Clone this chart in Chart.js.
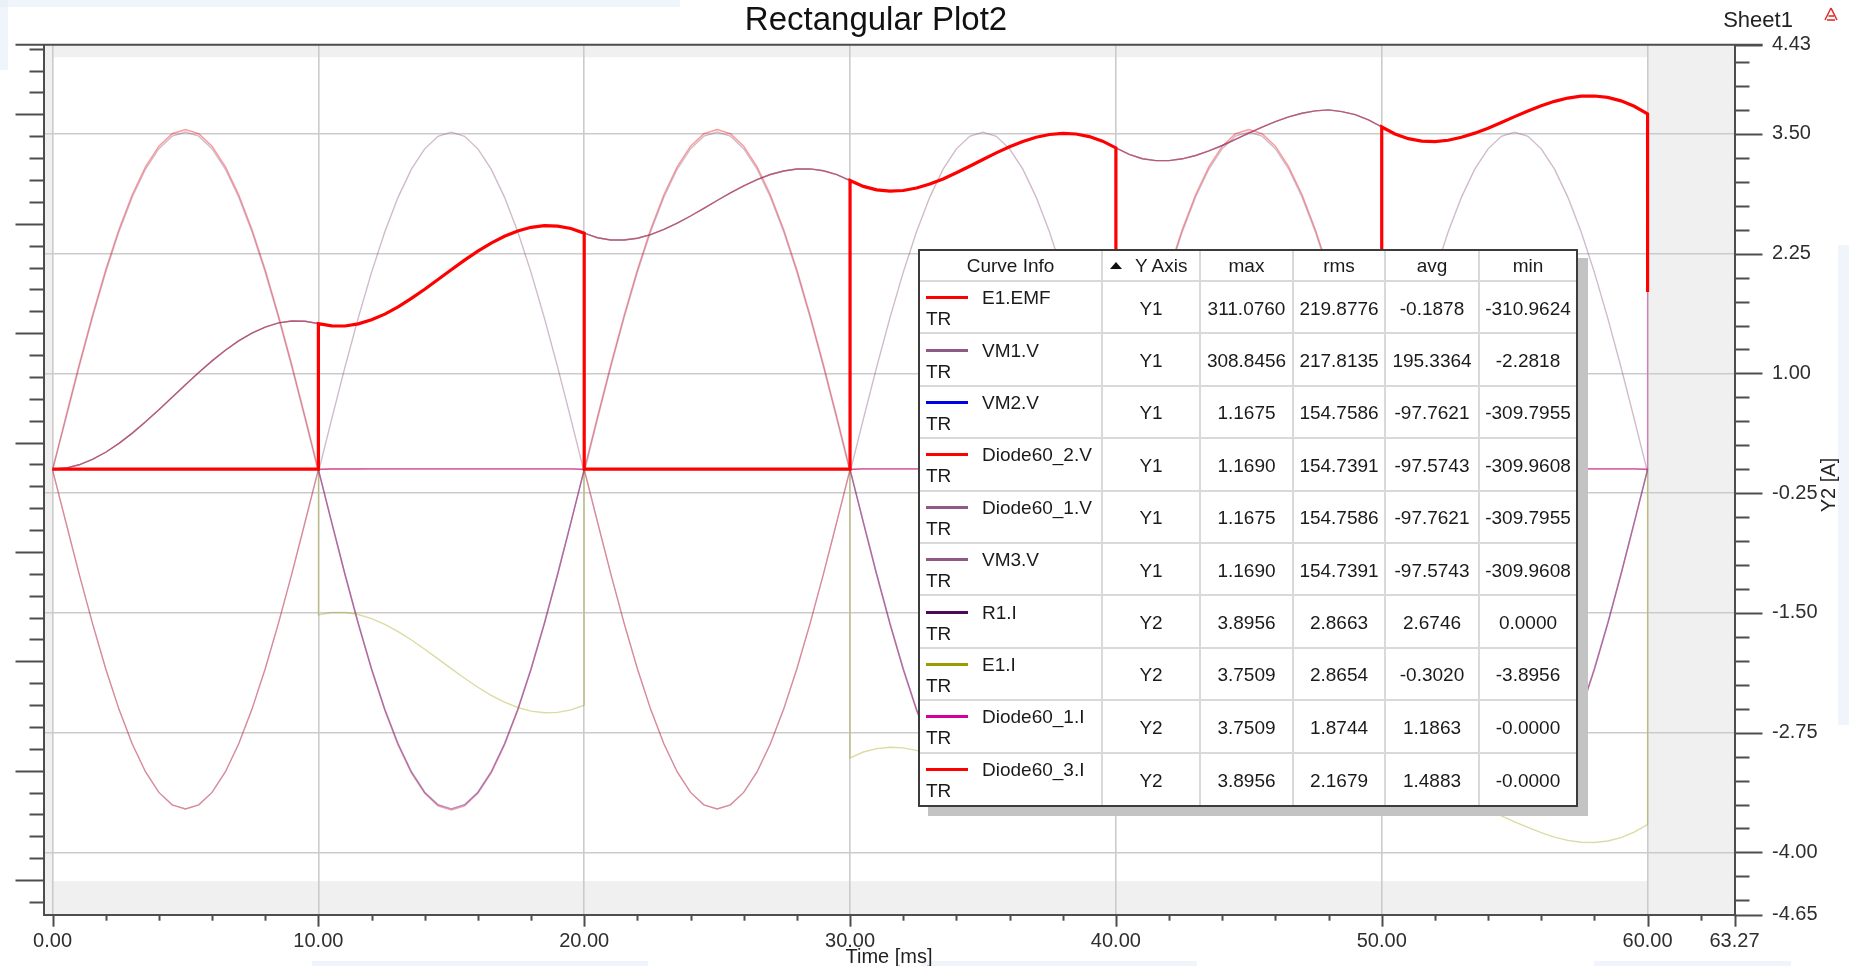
<!DOCTYPE html>
<html>
<head>
<meta charset="utf-8">
<title>Rectangular Plot2</title>
<script src="https://cdn.jsdelivr.net/npm/chart.js@4.4.1/dist/chart.umd.min.js"></script>
<style>
  html, body { margin: 0; padding: 0; background: #fff; overflow: hidden; }
  #stage { position: relative; width: 1849px; height: 966px; overflow: hidden; background: #fff; }
  #plot { position: absolute; left: 0; top: 0; width: 1849px; height: 966px; }
  #curveInfo {
    position: absolute; left: 918px; top: 249px; width: 656px; height: 554px; overflow: hidden;
    border: 2px solid #3c3c3c; background: #fff; box-shadow: 10px 9px 0 0 #c3c3c3;
  }
  #curveInfo table {
    width: 656px; height: 554px; border-collapse: collapse; border-style: hidden; table-layout: fixed;
    font-family: 'Liberation Sans', Arial, sans-serif; font-size: 19px; color: #1a1a1a;
  }
  #curveInfo th, #curveInfo td {
    border: 2px solid #d9d9d9; padding: 0; text-align: center; vertical-align: middle; font-weight: normal;
    white-space: nowrap; overflow: hidden;
  }
  #curveInfo thead tr { height: 30px; }
  #curveInfo tbody tr { height: 52.4px; }
  #curveInfo td.val { padding-top: 3px; line-height: 22px; }
  #curveInfo th.axisHead { text-align: left; padding-left: 7px; }
  #curveInfo .sortMark {
    display: inline-block; width: 0; height: 0; vertical-align: 3px; margin-right: 13px;
    border-left: 6px solid transparent; border-right: 6px solid transparent; border-bottom: 7px solid #111;
  }
  #curveInfo .cell { position: relative; height: 50px; text-align: left; }
  #curveInfo .swatch { position: absolute; left: 6px; top: 14px; width: 42px; height: 3px; }
  #curveInfo .name { position: absolute; left: 62px; top: 5px; line-height: 22px; }
  #curveInfo .src { position: absolute; left: 6px; top: 26px; line-height: 22px; }
</style>
</head>
<body>
<div id="stage">
  <canvas id="plot" width="1849" height="966"></canvas>
  <div id="curveInfo"></div>
</div>
<script>
// ---------------------------------------------------------------------------
// Texts
// ---------------------------------------------------------------------------
const chartTitle = 'Rectangular Plot2';
const sheetName = 'Sheet1';
const xAxisTitle = 'Time [ms]';
const y2AxisTitle = 'Y2 [A]';

// ---------------------------------------------------------------------------
// Axes
// ---------------------------------------------------------------------------
const xTickValues = [0, 10, 20, 30, 40, 50, 60, 63.27];
const y2TickValues = [4.43, 3.5, 2.25, 1.0, -0.25, -1.5, -2.75, -4.0, -4.65];
const y1MajorTicks = [-375, -275, -175, -75, 25, 125, 225, 325];   // unlabelled Y1 [V] marks
const dataSpanMs = [0, 60];            // simulated time span
const y2DataBand = 4.30;               // |Y2| limit of the plotted data window

// ---------------------------------------------------------------------------
// Samples: 0.5 ms step, 0 … 60 ms
// ---------------------------------------------------------------------------
const timeMs = Array.from({ length: 121 }, (_, i) => i / 2);
const switchTimesMs = [10, 20, 30, 40, 50, 60];
// current samples: every commutation instant is listed twice (before / after)
const timeSwMs = [];
timeMs.forEach(t => { timeSwMs.push(t); if (switchTimesMs.includes(t)) timeSwMs.push(t); });

// Y1 — voltages [V]
const e1Emf = [
  0, 48.7, 96.1, 141.2, 182.9, 220.0, 251.7, 277.2, 295.9, 307.3, 311.08, 307.3, 295.9, 277.2, 251.7, 220.0, 182.9, 141.2, 96.1, 48.7,
  0, -48.6, -96.1, -141.2, -182.8, -219.9, -251.6, -277.1, -295.7, -307.1, -310.96, -307.1, -295.7, -277.1, -251.6, -219.9, -182.8, -141.2, -96.1, -48.6,
  0, 48.7, 96.1, 141.2, 182.9, 220.0, 251.7, 277.2, 295.9, 307.3, 311.08, 307.3, 295.9, 277.2, 251.7, 220.0, 182.9, 141.2, 96.1, 48.7,
  0, -48.6, -96.1, -141.2, -182.8, -219.9, -251.6, -277.1, -295.7, -307.1, -310.96, -307.1, -295.7, -277.1, -251.6, -219.9, -182.8, -141.2, -96.1, -48.6,
  0, 48.7, 96.1, 141.2, 182.9, 220.0, 251.7, 277.2, 295.9, 307.3, 311.08, 307.3, 295.9, 277.2, 251.7, 220.0, 182.9, 141.2, 96.1, 48.7,
  0, -48.6, -96.1, -141.2, -182.8, -219.9, -251.6, -277.1, -295.7, -307.1, -310.96, -307.1, -295.7, -277.1, -251.6, -219.9, -182.8, -141.2, -96.1, -48.6,
  0
];
const vm1V = [
  0, 46.5, 93.9, 139.0, 180.7, 217.8, 249.5, 275.0, 293.7, 305.1, 308.85, 305.1, 293.7, 275.0, 249.5, 217.8, 180.7, 139.0, 93.9, 46.5,
  -2.28, 46.4, 93.9, 139.0, 180.6, 217.7, 249.4, 274.9, 293.5, 304.9, 308.76, 304.9, 293.5, 274.9, 249.4, 217.7, 180.6, 139.0, 93.9, 46.4,
  -2.28, 46.5, 93.9, 139.0, 180.7, 217.8, 249.5, 275.0, 293.7, 305.1, 308.85, 305.1, 293.7, 275.0, 249.5, 217.8, 180.7, 139.0, 93.9, 46.5,
  -2.28, 46.4, 93.9, 139.0, 180.6, 217.7, 249.4, 274.9, 293.5, 304.9, 308.76, 304.9, 293.5, 274.9, 249.4, 217.7, 180.6, 139.0, 93.9, 46.4,
  -2.28, 46.5, 93.9, 139.0, 180.7, 217.8, 249.5, 275.0, 293.7, 305.1, 308.85, 305.1, 293.7, 275.0, 249.5, 217.8, 180.7, 139.0, 93.9, 46.5,
  -2.28, 46.4, 93.9, 139.0, 180.6, 217.7, 249.4, 274.9, 293.5, 304.9, 308.76, 304.9, 293.5, 274.9, 249.4, 217.7, 180.6, 139.0, 93.9, 46.4,
  -2.28
];
// VM2.V and Diode60_1.V trace the same voltage
const diode1V = [
  0, 1.02, 1.06, 1.08, 1.10, 1.11, 1.12, 1.12, 1.13, 1.13, 1.13, 1.13, 1.13, 1.13, 1.13, 1.13, 1.13, 1.13, 1.12, 1.10,
  0.4, -47.5, -94.9, -140.0, -181.6, -218.7, -250.4, -275.9, -294.6, -306.0, -309.80, -306.0, -294.6, -275.9, -250.4, -218.7, -181.6, -140.0, -94.9, -47.5,
  0.4, 1.13, 1.14, 1.14, 1.14, 1.14, 1.15, 1.15, 1.15, 1.15, 1.15, 1.15, 1.15, 1.15, 1.15, 1.15, 1.15, 1.15, 1.14, 1.13,
  0.4, -47.5, -94.9, -140.0, -181.6, -218.7, -250.4, -275.9, -294.6, -306.0, -309.80, -306.0, -294.6, -275.9, -250.4, -218.7, -181.6, -140.0, -94.9, -47.5,
  0.4, 1.15, 1.15, 1.15, 1.15, 1.16, 1.16, 1.16, 1.16, 1.16, 1.16, 1.16, 1.165, 1.165, 1.166, 1.166, 1.1675, 1.166, 1.16, 1.16,
  0.4, -47.5, -94.9, -140.0, -181.6, -218.7, -250.4, -275.9, -294.6, -306.0, -309.80, -306.0, -294.6, -275.9, -250.4, -218.7, -181.6, -140.0, -94.9, -47.5,
  0.4
];
// Diode60_2.V and VM3.V trace the same voltage
const diode2V = [
  0, -47.6, -95.0, -140.1, -181.8, -218.9, -250.6, -276.1, -294.8, -306.2, -309.96, -306.2, -294.8, -276.1, -250.6, -218.9, -181.8, -140.1, -95.0, -47.6,
  0.4, 1.12, 1.12, 1.12, 1.13, 1.13, 1.13, 1.14, 1.14, 1.14, 1.14, 1.14, 1.14, 1.14, 1.14, 1.14, 1.14, 1.14, 1.14, 1.14,
  0.4, -47.6, -95.0, -140.1, -181.8, -218.9, -250.6, -276.1, -294.8, -306.2, -309.96, -306.2, -294.8, -276.1, -250.6, -218.9, -181.8, -140.1, -95.0, -47.6,
  0.4, 1.15, 1.15, 1.15, 1.15, 1.15, 1.15, 1.16, 1.16, 1.16, 1.16, 1.16, 1.16, 1.16, 1.16, 1.16, 1.16, 1.16, 1.16, 1.15,
  0.4, -47.6, -95.0, -140.1, -181.8, -218.9, -250.6, -276.1, -294.8, -306.2, -309.96, -306.2, -294.8, -276.1, -250.6, -218.9, -181.8, -140.1, -95.0, -47.6,
  0.4, 1.16, 1.16, 1.16, 1.16, 1.16, 1.165, 1.165, 1.166, 1.167, 1.168, 1.168, 1.168, 1.169, 1.169, 1.169, 1.1690, 1.169, 1.168, 1.168,
  0.4
];

// Y2 — currents [A]
const r1I = [
  0, 0.012, 0.046, 0.102, 0.177, 0.270, 0.377, 0.495, 0.621, 0.752, 0.882, 1.010, 1.131, 1.242, 1.340, 1.421, 1.484, 1.527, 1.547, 1.545,
  1.520, 1.496, 1.495, 1.517, 1.560, 1.619, 1.695, 1.783, 1.879, 1.980, 2.082, 2.182, 2.276, 2.360, 2.431, 2.487, 2.525, 2.542, 2.538, 2.512,
  2.464, 2.416, 2.392, 2.392, 2.411, 2.449, 2.503, 2.568, 2.643, 2.723, 2.805, 2.885, 2.958, 3.023, 3.076, 3.113, 3.133, 3.135, 3.115, 3.075,
  3.013, 2.952, 2.916, 2.902, 2.909, 2.935, 2.976, 3.030, 3.094, 3.162, 3.233, 3.302, 3.366, 3.421, 3.465, 3.494, 3.506, 3.499, 3.472, 3.424,
  3.354, 3.286, 3.241, 3.221, 3.221, 3.240, 3.275, 3.322, 3.379, 3.442, 3.507, 3.570, 3.628, 3.678, 3.716, 3.740, 3.7509, 3.733, 3.701, 3.647,
  3.572, 3.499, 3.450, 3.424, 3.420, 3.434, 3.465, 3.508, 3.560, 3.619, 3.680, 3.739, 3.794, 3.840, 3.874, 3.894, 3.8956, 3.881, 3.845, 3.788,
  3.709
];
const e1I = [
  0, 0.012, 0.046, 0.102, 0.177, 0.270, 0.377, 0.495, 0.621, 0.752, 0.882, 1.010, 1.131, 1.242, 1.340, 1.421, 1.484, 1.527, 1.547, 1.545,
  1.520, -1.520, -1.496, -1.495, -1.517, -1.560, -1.619, -1.695, -1.783, -1.879, -1.980, -2.082, -2.182, -2.276, -2.360, -2.431, -2.487, -2.525, -2.542, -2.538, -2.512,
  -2.464, 2.464, 2.416, 2.392, 2.392, 2.411, 2.449, 2.503, 2.568, 2.643, 2.723, 2.805, 2.885, 2.958, 3.023, 3.076, 3.113, 3.133, 3.135, 3.115, 3.075,
  3.013, -3.013, -2.952, -2.916, -2.902, -2.909, -2.935, -2.976, -3.030, -3.094, -3.162, -3.233, -3.302, -3.366, -3.421, -3.465, -3.494, -3.506, -3.499, -3.472, -3.424,
  -3.354, 3.354, 3.286, 3.241, 3.221, 3.221, 3.240, 3.275, 3.322, 3.379, 3.442, 3.507, 3.570, 3.628, 3.678, 3.716, 3.740, 3.7509, 3.733, 3.701, 3.647,
  3.572, -3.572, -3.499, -3.450, -3.424, -3.420, -3.434, -3.465, -3.508, -3.560, -3.619, -3.680, -3.739, -3.794, -3.840, -3.874, -3.894, -3.8956, -3.881, -3.845, -3.788,
  -3.709, 0.01
];
const diode1I = [
  0, 0.012, 0.046, 0.102, 0.177, 0.270, 0.377, 0.495, 0.621, 0.752, 0.882, 1.010, 1.131, 1.242, 1.340, 1.421, 1.484, 1.527, 1.547, 1.545,
  1.520, 0, 0, 0, 0, 0, 0, 0, 0, 0, 0, 0, 0, 0, 0, 0, 0, 0, 0, 0, 0,
  0, 2.464, 2.416, 2.392, 2.392, 2.411, 2.449, 2.503, 2.568, 2.643, 2.723, 2.805, 2.885, 2.958, 3.023, 3.076, 3.113, 3.133, 3.135, 3.115, 3.075,
  3.013, 0, 0, 0, 0, 0, 0, 0, 0, 0, 0, 0, 0, 0, 0, 0, 0, 0, 0, 0, 0,
  0, 3.354, 3.286, 3.241, 3.221, 3.221, 3.240, 3.275, 3.322, 3.379, 3.442, 3.507, 3.570, 3.628, 3.678, 3.716, 3.740, 3.7509, 3.733, 3.701, 3.647,
  3.572, 0, 0, 0, 0, 0, 0, 0, 0, 0, 0, 0, 0, 0, 0, 0, 0, 0, 0, 0, 0,
  0, 1.86
];
const diode3I = [
  0, 0, 0, 0, 0, 0, 0, 0, 0, 0, 0, 0, 0, 0, 0, 0, 0, 0, 0, 0,
  0, 1.520, 1.496, 1.495, 1.517, 1.560, 1.619, 1.695, 1.783, 1.879, 1.980, 2.082, 2.182, 2.276, 2.360, 2.431, 2.487, 2.525, 2.542, 2.538, 2.512,
  2.464, 0, 0, 0, 0, 0, 0, 0, 0, 0, 0, 0, 0, 0, 0, 0, 0, 0, 0, 0, 0,
  0, 3.013, 2.952, 2.916, 2.902, 2.909, 2.935, 2.976, 3.030, 3.094, 3.162, 3.233, 3.302, 3.366, 3.421, 3.465, 3.494, 3.506, 3.499, 3.472, 3.424,
  3.354, 0, 0, 0, 0, 0, 0, 0, 0, 0, 0, 0, 0, 0, 0, 0, 0, 0, 0, 0, 0,
  0, 3.572, 3.499, 3.450, 3.424, 3.420, 3.434, 3.465, 3.508, 3.560, 3.619, 3.680, 3.739, 3.794, 3.840, 3.874, 3.894, 3.8956, 3.881, 3.845, 3.788,
  3.709, 1.85
];

// ---------------------------------------------------------------------------
// Curve info table
// ---------------------------------------------------------------------------
const curveNames  = ['E1.EMF', 'VM1.V', 'VM2.V', 'Diode60_2.V', 'Diode60_1.V', 'VM3.V', 'R1.I', 'E1.I', 'Diode60_1.I', 'Diode60_3.I'];
const curveSource = 'TR';
const curveAxis   = ['Y1', 'Y1', 'Y1', 'Y1', 'Y1', 'Y1', 'Y2', 'Y2', 'Y2', 'Y2'];
const curveMax    = ['311.0760', '308.8456', '1.1675', '1.1690', '1.1675', '1.1690', '3.8956', '3.7509', '3.7509', '3.8956'];
const curveRms    = ['219.8776', '217.8135', '154.7586', '154.7391', '154.7586', '154.7391', '2.8663', '2.8654', '1.8744', '2.1679'];
const curveAvg    = ['-0.1878', '195.3364', '-97.7621', '-97.5743', '-97.7621', '-97.5743', '2.6746', '-0.3020', '1.1863', '1.4883'];
const curveMin    = ['-310.9624', '-2.2818', '-309.7955', '-309.9608', '-309.7955', '-309.9608', '0.0000', '-3.8956', '-0.0000', '-0.0000'];
const tableHeads  = ['Curve Info', 'Y Axis', 'max', 'rms', 'avg', 'min'];

// ---------------------------------------------------------------------------
// Styling
// ---------------------------------------------------------------------------
const FONT = "'Liberation Sans', Arial, sans-serif";
const frame = { left: 43.5, right: 1734.5, top: 44.8, bottom: 914.7 };
const curveColors = ['#ff0000', '#8e5a85', '#0000e6', '#ff0000', '#8e5a85', '#8e5a85', '#4b0a57', '#9c9c00', '#d4009c', '#ff0000'];
const traceColors = [
  'rgba(255,0,0,0.40)', 'rgba(142,90,133,0.42)', 'rgba(0,0,230,0.28)', 'rgba(255,0,0,0.33)', 'rgba(142,90,133,0.38)',
  'rgba(142,90,133,0.38)', 'rgba(75,10,87,0.48)', 'rgba(156,156,0,0.36)', 'rgba(212,0,156,0.38)', '#ff0000'
];
const colWidths = [182, 98, 93, 92, 94, 97];

function buildTable() {
  const colgroup = colWidths.map(w => `<col style="width:${w}px">`).join('');
  const head = '<tr>' + tableHeads.map((h, i) =>
    i === 1 ? `<th class="axisHead"><span class="sortMark"></span>${h}</th>` : `<th>${h}</th>`).join('') + '</tr>';
  const body = curveNames.map((n, i) =>
    '<tr>' +
    `<td><div class="cell"><span class="swatch" style="background:${curveColors[i]}"></span>` +
    `<span class="name">${n}</span><span class="src">${curveSource}</span></div></td>` +
    `<td class="val">${curveAxis[i]}</td><td class="val">${curveMax[i]}</td><td class="val">${curveRms[i]}</td>` +
    `<td class="val">${curveAvg[i]}</td><td class="val">${curveMin[i]}</td>` +
    '</tr>').join('');
  document.getElementById('curveInfo').innerHTML =
    `<table><colgroup>${colgroup}</colgroup><thead>${head}</thead><tbody>${body}</tbody></table>`;
}
buildTable();

// ---------------------------------------------------------------------------
// Chart
// ---------------------------------------------------------------------------
function series(times, values) { return times.map((t, i) => ({ x: t, y: values[i] })); }

const datasets = [
  { label: 'E1.EMF',      yAxisID: 'y1', data: series(timeMs, e1Emf),     order: 10 },
  { label: 'VM1.V',       yAxisID: 'y1', data: series(timeMs, vm1V),      order: 9 },
  { label: 'VM2.V',       yAxisID: 'y1', data: series(timeMs, diode1V),   order: 8 },
  { label: 'Diode60_2.V', yAxisID: 'y1', data: series(timeMs, diode2V),   order: 7 },
  { label: 'Diode60_1.V', yAxisID: 'y1', data: series(timeMs, diode1V),   order: 6 },
  { label: 'VM3.V',       yAxisID: 'y1', data: series(timeMs, diode2V),   order: 5 },
  { label: 'R1.I',        yAxisID: 'y2', data: series(timeMs, r1I),       order: 4 },
  { label: 'E1.I',        yAxisID: 'y2', data: series(timeSwMs, e1I),     order: 3 },
  { label: 'Diode60_1.I', yAxisID: 'y2', data: series(timeSwMs, diode1I), order: 2 },
  { label: 'Diode60_3.I', yAxisID: 'y2', data: series(timeSwMs, diode3I), order: 0 }
].map((d, i) => Object.assign(d, {
  borderColor: traceColors[i],
  borderWidth: i === 9 ? 3.2 : 1.4,
  pointRadius: 0, tension: 0, fill: false
}));

// keeps the frame exactly where the axis sizes put it (no label overhang padding)
function fixBox(size) {
  return s => {
    if (size.width !== undefined) s.width = size.width;
    if (size.height !== undefined) s.height = size.height;
    s.paddingTop = 0; s.paddingBottom = 0; s.paddingLeft = 0; s.paddingRight = 0;
  };
}

// shaded margins outside the data window, faint window-edge tint
const backdropPlugin = {
  id: 'backdrop',
  beforeDraw(chart) {
    const { ctx, chartArea: a, scales: { x, y2 } } = chart;
    ctx.save();
    ctx.fillStyle = 'rgba(226,236,246,0.55)';
    ctx.fillRect(0, 0, 680, 7);
    ctx.fillRect(0, 0, 8, 70);
    ctx.fillRect(1838, 245, 11, 480);
    ctx.fillRect(312, 961, 336, 5);
    ctx.fillRect(921, 961, 276, 5);
    ctx.fillRect(1594, 961, 197, 5);

    ctx.fillStyle = '#f0f0f0';
    const x0 = x.getPixelForValue(dataSpanMs[0]);
    const x1 = x.getPixelForValue(dataSpanMs[1]);
    ctx.fillRect(a.left, a.top, x0 - a.left, a.height);
    ctx.fillRect(x1, a.top, a.right - x1, a.height);
    const yt = y2.getPixelForValue(y2DataBand);
    const yb = y2.getPixelForValue(-y2DataBand);
    ctx.fillRect(a.left, a.top, a.width, yt - a.top);
    ctx.fillRect(a.left, yb, a.width, a.bottom - yb);
    ctx.restore();
  }
};

// outward tick marks (major + minor) on all three axes, frame top edge and captions
const decorPlugin = {
  id: 'decor',
  afterDraw(chart) {
    const { ctx, chartArea: a, scales: { x, y1, y2 } } = chart;
    ctx.save();
    ctx.strokeStyle = '#4d4d4d';
    ctx.lineWidth = 2;
    ctx.lineCap = 'butt';
    const seg = (xa, ya, xb, yb) => { ctx.beginPath(); ctx.moveTo(xa, ya); ctx.lineTo(xb, yb); ctx.stroke(); };

    // top edge of the frame, running out over both vertical axes
    seg(a.left - 28, a.top, a.right + 28, a.top);

    // Y1 (left): majors every 100 V, minors every 20 V
    for (let k = -21; k <= 19; k++) {
      const v = 25 + 20 * k;
      if (v < y1.min || v > y1.max) continue;
      const p = Math.round(y1.getPixelForValue(v)) + 0.5;
      const major = y1MajorTicks.includes(v);
      seg(a.left - (major ? 28 : 14), p, a.left, p);
    }

    // Y2 (right): labelled majors, minors every 0.25 A
    y2TickValues.forEach(v => {
      const p = Math.round(y2.getPixelForValue(v)) + 0.5;
      seg(a.right, p, a.right + 28, p);
    });
    for (let k = -18; k <= 17; k++) {
      const v = k * 0.25;
      if (y2TickValues.some(t => Math.abs(t - v) < 1e-6)) continue;
      const p = Math.round(y2.getPixelForValue(v)) + 0.5;
      seg(a.right, p, a.right + 15, p);
    }

    // time axis: majors at the labels, minors every 2 ms
    xTickValues.forEach(v => {
      const p = Math.round(x.getPixelForValue(v)) + 0.5;
      seg(p, a.bottom, p, a.bottom + 12);
    });
    for (let k = 1; k <= 31; k++) {
      const v = 2 * k;
      if (v % 10 === 0) continue;
      const p = Math.round(x.getPixelForValue(v)) + 0.5;
      seg(p, a.bottom, p, a.bottom + 6);
    }

    // captions
    ctx.fillStyle = '#111';
    ctx.textAlign = 'center';
    ctx.textBaseline = 'alphabetic';
    ctx.font = `33px ${FONT}`;
    ctx.fillText(chartTitle, 876, 30);

    ctx.fillStyle = '#222';
    ctx.font = `22px ${FONT}`;
    ctx.fillText(sheetName, 1758, 27);

    ctx.font = `20px ${FONT}`;
    ctx.textBaseline = 'top';
    ctx.fillText(xAxisTitle, (a.left + a.right) / 2, 947);

    ctx.save();
    ctx.translate(1829.5, 485);
    ctx.rotate(-Math.PI / 2);
    ctx.textBaseline = 'middle';
    ctx.fillText(y2AxisTitle, 0, 0);
    ctx.restore();

    // small red application mark in the corner
    ctx.strokeStyle = '#e0302a';
    ctx.lineWidth = 1.6;
    seg(1825, 20, 1831, 8);
    seg(1831, 8, 1837, 20);
    seg(1828.5, 16, 1834, 16);
    seg(1827, 20, 1835, 20);
    ctx.restore();
  }
};

Chart.defaults.font.family = FONT;

new Chart(document.getElementById('plot'), {
  type: 'line',
  data: { datasets },
  options: {
    responsive: false,
    animation: false,
    devicePixelRatio: 1,
    events: [],
    layout: { padding: { top: frame.top, left: 0, right: 0, bottom: 0 } },
    plugins: { legend: { display: false }, tooltip: { enabled: false }, title: { display: false } },
    scales: {
      x: {
        type: 'linear', position: 'bottom', min: -0.34, max: 63.27,
        afterBuildTicks: s => { s.ticks = xTickValues.map(v => ({ value: v })); },
        afterFit: fixBox({ height: 966 - frame.bottom }),
        ticks: { autoSkip: false, maxRotation: 0, padding: 15, color: '#2e2e2e', font: { size: 20 },
                 callback: v => Number(v).toFixed(2) },
        grid: { drawTicks: false, lineWidth: 1.6,
                color: c => (c.tick && c.tick.value > dataSpanMs[1]) ? 'rgba(0,0,0,0)' : '#cbcbcb' },
        border: { display: true, color: '#4d4d4d', width: 2 }
      },
      y1: {
        type: 'linear', position: 'left', min: -406.6, max: 388.6,
        afterFit: fixBox({ width: frame.left }),
        ticks: { display: false },
        grid: { display: false },
        border: { display: true, color: '#4d4d4d', width: 2 }
      },
      y2: {
        type: 'linear', position: 'right', min: -4.65, max: 4.43,
        afterBuildTicks: s => { s.ticks = y2TickValues.map(v => ({ value: v })); },
        afterFit: fixBox({ width: 1849 - frame.right }),
        ticks: { autoSkip: false, padding: 37.5, color: '#2e2e2e', font: { size: 20 },
                 callback: v => Number(v).toFixed(2) },
        grid: { drawTicks: false, lineWidth: 1.6,
                color: c => (c.tick && (c.tick.value === 4.43 || c.tick.value === -4.65)) ? 'rgba(0,0,0,0)' : '#cbcbcb' },
        border: { display: true, color: '#4d4d4d', width: 2 }
      }
    }
  },
  plugins: [backdropPlugin, decorPlugin]
});
</script>
</body>
</html>
